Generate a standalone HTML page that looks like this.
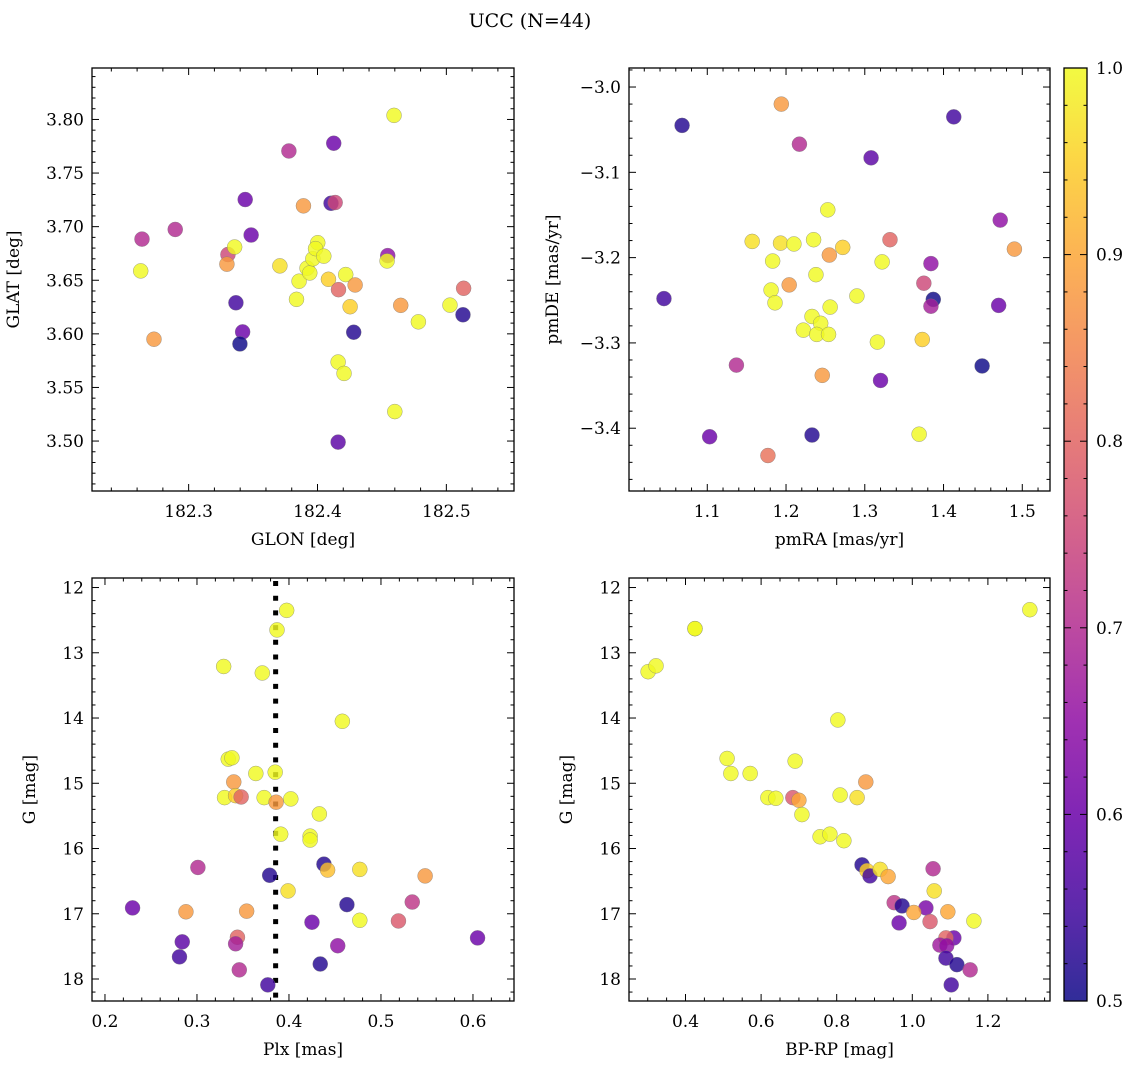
<!DOCTYPE html>
<html><head><meta charset="utf-8">
<style>
html,body{margin:0;padding:0;background:#fff;}
svg{display:block;font-family:"DejaVu Serif","Liberation Serif",serif;}
</style></head>
<body>
<svg id="fig" width="1136" height="1068" viewBox="0 0 1136 1068" xmlns="http://www.w3.org/2000/svg">
<text x="530" y="27" font-size="19" text-anchor="middle">UCC (N=44)</text>
</svg>
<script>
// ---- data: GLON / GLAT panel ----
const glon = [182.4594,182.4126,182.3778,182.3439,182.3891,182.4105,182.4137,182.2638,182.2896,182.2628,182.3305,182.3357,182.3297,182.3485,182.3708,182.3857,182.3837,182.3919,182.394,182.3964,182.4002,182.3985,182.4049,182.4085,182.4163,182.4219,182.4292,182.4253,182.4281,182.416,182.4206,182.4545,182.454,182.4646,182.4783,182.5028,182.5134,182.5129,182.3367,182.3419,182.3398,182.2731,182.46,182.416];
const glat = [3.8038,3.7778,3.7706,3.7253,3.7194,3.7218,3.7225,3.6884,3.6974,3.6587,3.674,3.681,3.665,3.6922,3.6634,3.6491,3.6322,3.6613,3.6568,3.67,3.685,3.6795,3.6725,3.6509,3.6412,3.6553,3.6456,3.6253,3.6015,3.5737,3.5631,3.673,3.668,3.6266,3.6112,3.6268,3.6425,3.6178,3.629,3.6018,3.5906,3.595,3.5275,3.499];
const probA = [1.0,0.6,0.7,0.6,0.88,0.55,0.75,0.7,0.7,1.0,0.75,1.0,0.88,0.6,0.97,1.0,1.0,1.0,1.0,1.0,1.0,1.0,1.0,0.95,0.8,1.0,0.88,0.95,0.52,1.0,1.0,0.65,1.0,0.88,1.0,1.0,0.8,0.52,0.55,0.6,0.5,0.88,1.0,0.58];
// ---- data: pmRA / pmDE panel ----
const pmra = [1.068,1.194,1.217,1.308,1.413,1.253,1.472,1.157,1.193,1.210,1.235,1.272,1.255,1.332,1.490,1.183,1.322,1.384,1.238,1.181,1.204,1.375,1.045,1.186,1.256,1.290,1.387,1.384,1.470,1.233,1.244,1.222,1.239,1.254,1.316,1.373,1.137,1.246,1.320,1.449,1.103,1.233,1.369,1.177];
const pmde = [-3.045,-3.020,-3.067,-3.083,-3.035,-3.144,-3.156,-3.181,-3.183,-3.184,-3.179,-3.188,-3.197,-3.179,-3.190,-3.204,-3.205,-3.207,-3.220,-3.238,-3.232,-3.230,-3.248,-3.253,-3.258,-3.245,-3.249,-3.257,-3.256,-3.269,-3.277,-3.285,-3.290,-3.290,-3.299,-3.296,-3.326,-3.338,-3.344,-3.327,-3.410,-3.408,-3.407,-3.432];
const probB = [0.52,0.88,0.7,0.58,0.55,1.0,0.65,0.97,0.97,1.0,1.0,0.95,0.88,0.8,0.88,1.0,1.0,0.65,1.0,1.0,0.88,0.75,0.55,1.0,1.0,1.0,0.5,0.68,0.6,1.0,1.0,1.0,1.0,1.0,1.0,0.95,0.7,0.88,0.6,0.5,0.6,0.52,1.0,0.82];
// ---- data: Plx / G panel ----
const plx = [0.3975,0.387,0.329,0.371,0.458,0.334,0.338,0.364,0.385,0.340,0.330,0.342,0.348,0.373,0.386,0.402,0.433,0.391,0.423,0.423,0.301,0.438,0.442,0.477,0.379,0.548,0.399,0.230,0.288,0.354,0.463,0.534,0.425,0.477,0.519,0.605,0.284,0.344,0.342,0.453,0.281,0.434,0.346,0.377];
const gmagC = [12.35,12.65,13.21,13.31,14.05,14.63,14.61,14.85,14.83,14.98,15.22,15.19,15.21,15.22,15.29,15.24,15.47,15.78,15.81,15.87,16.29,16.24,16.33,16.32,16.41,16.42,16.65,16.91,16.97,16.96,16.86,16.82,17.13,17.10,17.11,17.37,17.43,17.36,17.46,17.49,17.66,17.77,17.86,18.09];
const probC = [1.0,1.0,1.0,1.0,1.0,1.0,1.0,1.0,1.0,0.88,1.0,0.95,0.8,1.0,0.88,1.0,1.0,1.0,1.0,1.0,0.7,0.52,0.93,0.97,0.52,0.88,0.97,0.6,0.88,0.88,0.52,0.72,0.6,1.0,0.78,0.6,0.58,0.8,0.68,0.65,0.55,0.52,0.7,0.55];
const plxLine = 0.3855;
// ---- data: BP-RP / G panel ----
const bprp = [1.311,0.425,0.301,0.322,0.803,0.510,0.690,0.520,0.571,0.877,0.618,0.639,0.684,0.700,0.809,0.854,0.708,0.756,0.782,0.819,0.867,0.880,0.888,0.915,0.936,1.055,1.058,0.952,0.973,1.036,1.004,1.094,1.163,0.965,1.047,1.110,1.089,1.073,1.091,1.089,1.118,1.153,1.103,0.425];
const gmagD = [12.34,12.63,13.29,13.20,14.03,14.62,14.66,14.85,14.85,14.98,15.22,15.23,15.22,15.26,15.18,15.22,15.48,15.82,15.78,15.88,16.25,16.34,16.42,16.32,16.43,16.31,16.65,16.83,16.88,16.91,16.98,16.97,17.11,17.14,17.12,17.37,17.37,17.48,17.49,17.68,17.78,17.86,18.09,12.63];
const probD = [1.0,1.0,1.0,1.0,1.0,1.0,1.0,1.0,1.0,0.88,1.0,1.0,0.78,0.9,1.0,0.97,1.0,1.0,1.0,1.0,0.52,0.95,0.55,0.97,0.9,0.7,0.97,0.72,0.52,0.62,0.9,0.9,1.0,0.6,0.78,0.6,0.8,0.67,0.65,0.55,0.52,0.7,0.55,1.0];
// colorbar ticks
const cbTicks = [0.5,0.6,0.7,0.8,0.9,1.0];

const NS = "http://www.w3.org/2000/svg";
const svg = document.getElementById('fig');
const FS = 17;
function mk(tag, attrs, parent){const e=document.createElementNS(NS,tag);for(const k in attrs)e.setAttribute(k,attrs[k]);(parent||svg).appendChild(e);return e;}

const stops=["#0d0887","#41049d","#6a00a8","#8f0da4","#b12a90","#cc4778","#e16462","#f2844b","#fca636","#fcce25","#f0f921"];
function hex(h){return [parseInt(h.substr(1,2),16),parseInt(h.substr(3,2),16),parseInt(h.substr(5,2),16)];}
function plasma(t){t=Math.max(0,Math.min(1,t));const f=t*10;const i=Math.min(9,Math.floor(f));const r=f-i;const a=hex(stops[i]),b=hex(stops[i+1]);return "rgb("+a.map((v,k)=>Math.round(v+(b[k]-v)*r)).join(",")+")";}
function pcol(p){return plasma((p-0.5)/0.5);}
function fmt(v,d){const s=v.toFixed(d);return s.replace('-','\u2212');}

function panel(cfg, xs, ys, ps){
  const g = mk('g',{});
  
  
  const X = v => cfg.x0 + (v-cfg.xd[0])/(cfg.xd[1]-cfg.xd[0])*(cfg.x1-cfg.x0);
  const Y = v => cfg.y1 - (v-cfg.yd[0])/(cfg.yd[1]-cfg.yd[0])*(cfg.y1-cfg.y0);
  const tg = mk('g',{stroke:'#000','stroke-width':1},g);
  
  
  const xlo=Math.min(...cfg.xd), xhi=Math.max(...cfg.xd), ylo=Math.min(...cfg.yd), yhi=Math.max(...cfg.yd);
  for(let k=Math.ceil(xlo/cfg.xmin-1e-6);k*cfg.xmin<=xhi+1e-9;k++){
    const v=k*cfg.xmin, px=X(v);
    const major=Math.abs(v/cfg.xmaj-Math.round(v/cfg.xmaj))<1e-6;
    const L=major?7:3.5;
    mk('line',{x1:px,x2:px,y1:cfg.y1,y2:cfg.y1-L},tg);
    mk('line',{x1:px,x2:px,y1:cfg.y0,y2:cfg.y0+L},tg);
    if(major){const t=mk('text',{x:px,y:cfg.y1+26,'font-size':FS,'text-anchor':'middle',stroke:'none',fill:'#000'},g);t.textContent=fmt(v,cfg.xdec);
      }
  }
  for(let k=Math.ceil(ylo/cfg.ymin-1e-6);k*cfg.ymin<=yhi+1e-9;k++){
    const v=k*cfg.ymin, py=Y(v);
    const major=Math.abs(v/cfg.ymaj-Math.round(v/cfg.ymaj))<1e-6;
    const L=major?7:3.5;
    mk('line',{x1:cfg.x0,x2:cfg.x0+L,y1:py,y2:py},tg);
    mk('line',{x1:cfg.x1,x2:cfg.x1-L,y1:py,y2:py},tg);
    if(major){const t=mk('text',{x:cfg.x0-8,y:py+6,'font-size':FS,'text-anchor':'end',stroke:'none',fill:'#000'},g);t.textContent=fmt(v,cfg.ydec);
      }
  }
  if(cfg.vline!==undefined){
    const l=mk('line',{x1:X(cfg.vline),x2:X(cfg.vline),y1:cfg.y0+3,y2:cfg.y1,stroke:'#000','stroke-width':5,'stroke-dasharray':'5 9.7'},g);
    
  }
  for(let i=0;i<xs.length;i++){
    const c=mk('circle',{cx:X(xs[i]),cy:Y(ys[i]),r:7.5,fill:pcol(ps[i]),'fill-opacity':0.82,stroke:'#777','stroke-width':0.5,'stroke-opacity':0.7},g);
    
    
  }
  const fr=mk('rect',{x:cfg.x0,y:cfg.y0,width:cfg.x1-cfg.x0,height:cfg.y1-cfg.y0,fill:'none',stroke:'#000','stroke-width':1.3},g);
  
  const xl=mk('text',{x:(cfg.x0+cfg.x1)/2,y:cfg.y1+54,'font-size':FS,'text-anchor':'middle'},g);xl.textContent=cfg.xlabel;
  
  const yx=cfg.x0-cfg.ylabOff, yy=(cfg.y0+cfg.y1)/2;
  const yl=mk('text',{x:yx,y:yy,'font-size':FS,'text-anchor':'middle',transform:'rotate(-90 '+yx+' '+yy+')'},g);yl.textContent=cfg.ylabel;
  
}

panel({name:'glon-glat-panel',x0:92,x1:514,y0:68,y1:491,xd:[182.225,182.5525],yd:[3.4534,3.848],xmaj:0.1,xmin:0.02,ymaj:0.05,ymin:0.01,xdec:1,ydec:2,xlabel:'GLON [deg]',ylabel:'GLAT [deg]',ylabOff:73},glon,glat,probA);
panel({name:'proper-motion-panel',x0:629,x1:1050,y0:68,y1:491,xd:[1.0006,1.5352],yd:[-3.4736,-2.9777],xmaj:0.1,xmin:0.02,ymaj:0.1,ymin:0.02,xdec:1,ydec:1,xlabel:'pmRA [mas/yr]',ylabel:'pmDE [mas/yr]',ylabOff:71},pmra,pmde,probB);
panel({name:'parallax-mag-panel',x0:92,x1:514,y0:578,y1:1001,xd:[0.1859,0.6446],yd:[18.337,11.854],xmaj:0.1,xmin:0.02,ymaj:1,ymin:0.2,xdec:1,ydec:0,xlabel:'Plx [mas]',ylabel:'G [mag]',ylabOff:57,vline:plxLine},plx,gmagC,probC);
panel({name:'cmd-panel',x0:629,x1:1050,y0:578,y1:1001,xd:[0.2505,1.3643],yd:[18.337,11.854],xmaj:0.2,xmin:0.05,ymaj:1,ymin:0.2,xdec:1,ydec:0,xlabel:'BP-RP [mag]',ylabel:'G [mag]',ylabOff:57},bprp,gmagD,probD);

const cb=mk('g',{});


const defs=mk('defs',{},cb);
const lg=mk('linearGradient',{id:'pl',x1:0,y1:1,x2:0,y2:0},defs);
for(let i=0;i<=20;i++){mk('stop',{offset:(i/20),'stop-color':plasma(i/20)},lg);}
const CB={x0:1064,x1:1087,y0:68,y1:1001};
mk('rect',{x:CB.x0,y:CB.y0,width:CB.x1-CB.x0,height:CB.y1-CB.y0,fill:'url(#pl)','fill-opacity':0.85},cb);
const CY=v=>CB.y1-(v-0.5)/0.5*(CB.y1-CB.y0);
for(let k=50;k<=100;k+=2){const v=k/100,py=CY(v);const major=(k%10===0);
  mk('line',{x1:CB.x1,x2:CB.x1-(major?7:3.5),y1:py,y2:py,stroke:'#000','stroke-width':1},cb);
  mk('line',{x1:CB.x0,x2:CB.x0+(major?7:3.5),y1:py,y2:py,stroke:'#000','stroke-width':1},cb);}
for(const v of cbTicks){const t=mk('text',{x:CB.x1+9,y:CY(v)+6,'font-size':FS},cb);t.textContent=v.toFixed(1);
  }
mk('rect',{x:CB.x0,y:CB.y0,width:CB.x1-CB.x0,height:CB.y1-CB.y0,fill:'none',stroke:'#000','stroke-width':1.3},cb);
</script>
</body></html>
